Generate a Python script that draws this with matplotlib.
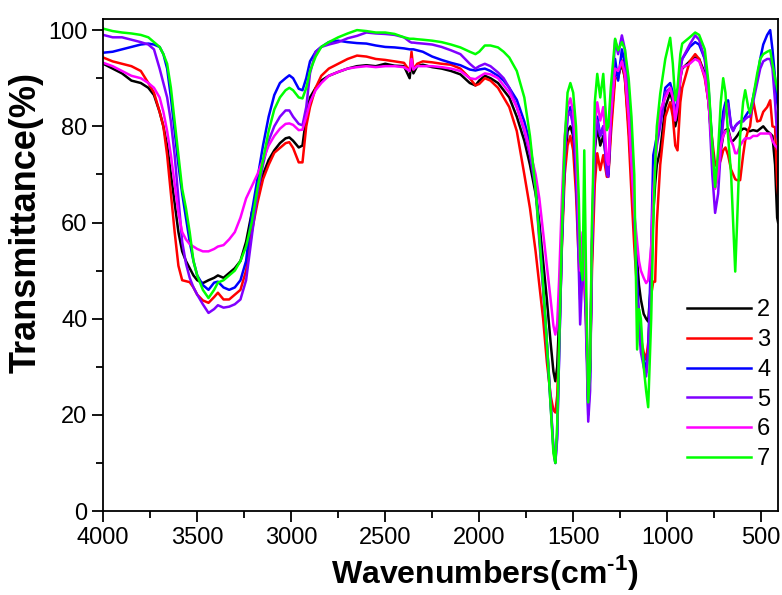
import matplotlib
matplotlib.use("Agg")
import matplotlib.pyplot as plt
from matplotlib.ticker import MultipleLocator

# wavenumbers (cm-1) and transmittance (%)
wn = [4000, 3950, 3900, 3850, 3800, 3760, 3730, 3700, 3680, 3660, 3640, 3620, 3600, 3580,
      3560, 3540, 3520, 3500, 3470, 3440, 3410, 3390, 3360, 3330, 3300, 3270, 3240, 3210,
      3180, 3150, 3120, 3090, 3060, 3030, 3010, 2990, 2960, 2940, 2920, 2900, 2870, 2840,
      2800, 2750, 2700, 2650, 2600, 2550, 2500, 2450, 2400, 2370, 2360, 2350, 2330, 2300,
      2250, 2200, 2150, 2100, 2050, 2020, 2000, 1970, 1940, 1900, 1870, 1840, 1800, 1760,
      1730, 1700, 1680, 1660, 1640, 1620, 1605, 1595, 1585, 1575, 1560, 1545, 1530, 1515,
      1500, 1485, 1470, 1463, 1450, 1441, 1430, 1420, 1410, 1400, 1385, 1372, 1356, 1340,
      1321, 1313, 1300, 1277, 1261, 1241, 1225, 1205, 1190, 1175, 1160, 1150, 1140, 1125,
      1112, 1101, 1085, 1074, 1064, 1055, 1037, 1010, 984, 970, 957, 945, 930, 920,
      880, 851, 830, 800, 780, 760, 745, 729, 715, 702, 690, 676, 660, 649,
      638, 628, 612, 596, 585, 569, 559, 543, 521, 505, 489, 468, 452, 440,
      426, 415, 410]

t2 = [93, 92, 91, 89.5, 89, 88, 86.5, 83, 80, 76, 70, 64, 58, 54,
      52, 50.5, 49, 48, 47.4, 48, 48.5, 49, 48.5, 49.5, 50.5, 52, 56, 62,
      66, 70, 73, 75, 76.5, 77.5, 77.7, 77, 75.6, 76, 82, 86, 88, 89.5,
      90.5, 91.3, 92, 92.5, 92.7, 92.5, 93, 92.6, 92.5, 90, 93.5, 91, 92.5, 92.8,
      92.3, 92, 91.5, 90.8, 89, 88.5, 89.5, 90.5, 90, 89, 87.5, 86, 82, 77,
      72, 66, 60, 52, 44, 35, 29, 27, 30, 40, 58, 72, 79, 80,
      78, 70, 55, 48, 55, 52, 40, 22, 30, 55, 75, 80, 76, 78,
      72, 70, 80, 91, 90.5, 93, 90, 80, 70, 60, 52, 47, 44, 41,
      40, 39.4, 48, 62, 68, 72, 75, 84, 87, 85, 80, 82, 90, 92,
      93.5, 94.3, 94, 91, 85, 75, 67.4, 70, 75, 78, 79.2, 79.5, 77, 77,
      77.5, 78, 79, 79.5, 79.5, 79, 79, 79.2, 79, 79.5, 80, 79, 78.5, 78,
      72, 61, 60]

t3 = [94.3, 93.5, 93, 92.5, 91.5, 89, 87, 83, 80, 74, 66, 58, 51, 48,
      47.8, 47.6, 46.5, 45, 43.8, 43.3, 44.5, 45.4, 44, 44, 45, 46, 50, 58,
      64, 69, 72, 74.5, 75.5, 76.5, 76.7, 75.5, 72.5, 72.5, 80, 84, 88, 90.5,
      92, 93, 94, 94.7, 94.5, 94, 93.8, 93.5, 93.2, 91.5, 95.5, 91.8, 93, 93.5,
      93.3, 93, 92.8, 92, 90, 88.5, 88.8, 90, 89.5, 88, 86, 84, 79, 70,
      63, 54, 47, 40, 31, 24, 21, 20.5, 24, 35, 55, 70, 76, 78,
      75, 66, 52, 45, 50, 48, 38, 23, 30, 50, 68, 74.4, 70.9, 74,
      69.5, 69.5, 78, 90, 90, 93.7, 90, 78, 66, 55, 46, 40, 36, 33,
      31.5, 35, 45, 47.7, 47.7, 60, 72, 82, 85, 82, 76, 75, 85, 88,
      93.5, 95, 94, 90, 85, 77, 72, 71.5, 73, 75, 75.6, 74, 71, 70,
      69, 68.8, 68.8, 74, 77, 79.2, 80, 85.4, 81, 81.2, 83, 84, 85.4, 80,
      79.8, 68, 66]

t4 = [95.3, 95.5, 96, 96.5, 97, 97.2, 97, 96.5, 95, 92, 86, 79, 72, 66,
      61, 56, 52, 49, 47, 46, 47.5, 47.7, 46.5, 46, 46.5, 48, 52, 62,
      69, 76, 82, 86.5, 89, 90, 90.6, 90, 87.8, 87.5, 90, 93.5, 95.5, 96.5,
      97.5, 97.8, 97.5, 97.3, 97.2, 96.8, 96.5, 96.4, 96.2, 96, 96, 96, 95.8, 95.5,
      94.5, 93.8, 93.2, 92.7, 91.8, 91.6, 91.8, 92, 91.5, 90.5, 89.5, 88, 85.5, 81,
      76.5, 68, 58, 47, 35, 22, 13, 10, 16, 32, 56, 74, 82, 84,
      80, 70, 55, 44, 52, 55, 40, 20, 28, 55, 78, 82, 78, 80,
      72, 70, 82, 94, 89.5, 96, 93, 84, 75, 63, 48, 40, 35, 32,
      28.8, 33, 55, 74, 76, 78, 81, 88, 89, 87, 83, 85, 92, 94,
      96.5, 97.5, 97, 94, 88, 76, 68.8, 72, 78, 83, 85, 85.4, 80, 79.2,
      80, 80.5, 81, 81.2, 82, 83, 83, 86, 90, 94, 97, 99, 100, 96,
      90, 85, 84]

t5 = [99, 98.5, 98.5, 98, 97.5, 97, 96, 92, 89, 86, 81, 74, 65, 56,
      51.5, 48.5, 46.5, 45, 43, 41.2, 42, 42.8, 42.3, 42.5, 43, 44, 48, 57,
      66, 72, 77, 80, 82, 83.3, 83.3, 82, 80.5, 80.2, 84, 91, 95.5, 96.5,
      97, 97.5, 98.3, 98.8, 99.5, 99.3, 99.2, 99, 98.5, 97.6, 97.4, 97.4, 97.3, 97.2,
      97, 96.5, 95.8, 95, 93, 92, 92.5, 93, 92.5, 91.2, 90, 88, 84, 79,
      74, 67, 56, 46, 35, 23, 13, 10, 15, 32, 56, 74, 82, 83,
      80, 72, 50, 38.8, 50, 50, 35, 18.6, 25, 55, 76, 81.2, 78, 80,
      70, 69.5, 82, 98, 95, 98.9, 96, 86, 76, 62, 45, 38, 33, 30,
      28, 33, 50, 65, 72, 76, 80, 87, 88, 86, 82, 85, 92, 94,
      97, 98.9, 98, 94, 86, 70, 62, 66, 75, 81, 84, 84.7, 80, 79,
      80, 80.5, 81, 81, 81.5, 82, 82, 85, 89, 92, 93.5, 94, 94, 92,
      85, 78, 77]

t6 = [93.2, 92.5, 91.5, 90.5, 90, 89, 88, 86, 83, 79, 74, 68, 62, 58,
      56.5, 55.5, 55, 54.5, 54, 54, 54.5, 55, 55.3, 56.5, 58, 61, 65, 67.5,
      70, 73, 76, 78, 79.5, 80.5, 80.6, 80.3, 79.2, 79.3, 82, 85, 87.5, 89,
      90.5, 91.3, 92, 92.3, 92.5, 92.3, 92.5, 92.5, 92.3, 91.5, 94, 91.8, 92.5, 92.5,
      92.5, 92.3, 92, 91.5, 90, 89.8, 90.3, 91, 90.8, 90, 88.5, 87, 84, 79.5,
      75, 70, 65, 58, 51, 44, 38.5, 36.7, 39, 48, 65, 78, 84, 85.8,
      83, 76, 60, 50, 58, 55, 42, 24, 32, 58, 80, 85, 81.2, 84,
      73, 72, 82, 92, 91.5, 93.5, 91, 82, 72, 62, 56, 52, 50, 48.5,
      47.4, 48, 55, 66, 72, 78, 83.3, 86, 88, 86, 81.2, 84, 90, 92.2,
      93, 94, 93.5, 90.5, 85, 75, 67, 70, 76, 78, 79, 79, 77, 76,
      74.4, 74.4, 76, 77, 77.5, 77.5, 77.5, 78, 78, 78.5, 78.5, 78.5, 78.5, 77,
      76, 75.6, 75]

t7 = [100.3, 99.8, 99.5, 99.3, 99, 98.5, 97.5, 96.5, 95, 93, 88, 81, 74, 67,
      63, 58, 52, 49, 46, 44.3, 46, 47.5, 48, 49, 50, 52, 55, 60,
      67, 73, 79, 83.5, 86, 87.5, 88, 87.5, 86, 85.8, 88, 91.5, 94.5, 96.5,
      97.5, 98.5, 99.3, 100, 99.8, 99.5, 99.5, 99.2, 98.5, 98.2, 98.2, 98.2, 98.1, 98,
      97.8, 97.5, 97, 96.4, 95.5, 95, 95.5, 96.8, 96.8, 96.4, 95.5, 94.3, 91.5, 86,
      78, 67, 57, 47, 35, 22, 12, 10, 18, 34, 58, 77, 87, 89,
      87, 80, 65, 52, 48, 75, 45, 22.6, 30, 60, 85, 90.9, 86, 90.9,
      79.2, 80, 88, 98.2, 95.8, 97.5, 96, 90, 82, 70, 33.6, 42, 40, 30,
      25, 21.6, 40, 60, 72, 80, 86.8, 94, 98.4, 93, 85.4, 88, 95, 97.2,
      98.5, 99.5, 99, 96, 89, 76, 67.4, 75, 85, 90, 87, 78, 70, 60,
      49.8, 60, 78, 85, 87.5, 84, 82.7, 86, 91, 94, 95, 95.5, 95.8, 93,
      90, 88, 87]

labels = ["2", "3", "4", "5", "6", "7"]
colors = ["#000000", "#ff0000", "#0000ff", "#8000ff", "#ff00ff", "#00ff00"]

plt.rcParams['font.family'] = ['Liberation Sans', 'DejaVu Sans']
plt.rcParams['mathtext.fontset'] = 'custom'
plt.rcParams['mathtext.rm'] = 'Liberation Sans:bold'
plt.rcParams['mathtext.bf'] = 'Liberation Sans:bold'

fig = plt.figure(figsize=(7.82, 5.95), dpi=100)
ax = fig.add_axes([0.132, 0.141, 0.863, 0.827])

for t, lab, c in zip([t2, t3, t4, t5, t6, t7], labels, colors):
    ax.plot(wn, t, color=c, lw=1.8, label=lab)

ax.set_xlim(4000, 410)
ax.set_ylim(0, 102.3)
ax.xaxis.set_major_locator(MultipleLocator(500))
ax.xaxis.set_minor_locator(MultipleLocator(250))
ax.yaxis.set_major_locator(MultipleLocator(20))
ax.yaxis.set_minor_locator(MultipleLocator(10))
ax.tick_params(which='major', direction='out', length=8, width=1.3, labelsize=17)
ax.tick_params(which='minor', direction='out', length=5, width=1.3)
for s in ax.spines.values():
    s.set_linewidth(1.3)

ax.set_xlabel("Wavenumbers(cm$^{\\text{-1}}$)", fontsize=23, fontweight='bold')
ax.set_ylabel("Transmittance(%)", fontsize=26, fontweight='bold')
ax.xaxis.set_label_coords(0.566, -0.085)
ax.yaxis.set_label_coords(-0.088, 0.587)

ax.legend(loc='lower right', bbox_to_anchor=(1.02, 0.04), frameon=False, fontsize=17,
          handlelength=2.7, handletextpad=0.25, labelspacing=0.33)

fig.savefig("out.png", dpi=100)
